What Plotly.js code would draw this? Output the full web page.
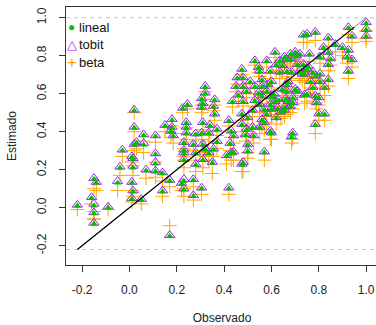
<!DOCTYPE html>
<html><head><meta charset="utf-8">
<script src="https://cdn.plot.ly/plotly-3.0.1.min.js"></script>
<style>html,body{margin:0;padding:0;overflow:hidden;background:#fff}#chart{width:380px;height:325px}</style>
</head><body><div id="chart"></div>
<script>
// Observed values (x) and the three model estimates (y)
const observado = [
-0.22,-0.16,-0.15,-0.14,-0.15,-0.15,-0.15,-0.09,-0.05,-0.04,
-0.03,0.01,0.015,0.01,0.015,0.01,0.05,0.07,0.11,0.11,
0.11,0.14,0.14,0.17,0.17,0.22,0.23,0.23,0.23,0.02,
0.02,0.06,0.11,0.03,0.02,0.06,0.015,0.15,0.18,0.175,
0.185,0.225,0.23,0.23,0.23,0.245,0.31,0.355,0.435,0.48,
0.305,0.36,0.24,0.31,0.34,0.42,0.475,0.495,0.24,0.28,
0.305,0.335,0.43,0.44,0.525,0.55,0.595,0.27,0.31,0.37,
0.425,0.43,0.50,0.28,0.32,0.335,0.355,0.41,0.35,0.48,
0.57,0.28,0.31,0.27,0.305,0.42,0.27,0.50,0.44,0.32,
0.32,0.305,0.18,0.24,0.36,0.615,0.58,0.635,0.655,0.55,
0.595,0.635,0.665,0.56,0.60,0.475,0.48,0.48,0.45,0.495,
0.53,0.545,0.58,0.61,0.645,0.67,0.615,0.455,0.53,0.545,
0.56,0.585,0.62,0.645,0.68,0.705,0.71,0.73,0.75,0.75,
0.56,0.63,0.665,0.69,0.71,0.67,0.595,0.655,0.57,0.475,
0.50,0.52,0.49,0.57,0.60,0.69,0.79,0.80,0.825,0.785,
0.685,0.655,0.68,0.60,0.72,0.76,0.805,0.84,0.85,0.84,
0.925,0.92,0.94,0.925,0.735,0.74,0.775,0.805,0.765,0.805,
0.84,0.775,0.825,0.70,0.74,0.69,0.785,0.80,0.75,0.785,
0.735,0.84,0.925,0.94,1.0,1.0,1.0,0.87,0.90,0.82,
0.70,0.68,0.665,0.755,0.72,0.685,0.785,0.665,0.475,0.53,
0.55,0.58,0.62,0.64,0.52,0.60,0.66,0.56,0.625,0.46,
0.51,0.37
];
const lineal = [
0.01,0.05,0.15,0.13,0.01,-0.03,-0.085,0.00,0.13,0.21,
0.30,0.265,0.21,0.13,0.085,0.045,0.04,0.195,0.28,0.23,
0.19,0.18,0.085,0.14,-0.15,0.125,0.14,0.095,0.285,0.51,
0.42,0.38,0.375,0.34,0.33,0.33,0.255,0.43,0.46,0.40,
0.375,0.52,0.34,0.30,0.25,0.54,0.545,0.53,0.555,0.555,
0.525,0.49,0.445,0.445,0.43,0.455,0.435,0.41,0.39,0.385,
0.39,0.39,0.40,0.375,0.375,0.42,0.40,0.33,0.33,0.345,
0.335,0.285,0.33,0.285,0.305,0.285,0.305,0.27,0.235,0.235,
0.29,0.225,0.25,0.145,0.10,0.10,0.06,0.295,0.29,0.635,
0.60,0.57,0.42,0.42,0.565,0.815,0.77,0.77,0.79,0.715,
0.715,0.71,0.715,0.67,0.66,0.725,0.68,0.635,0.635,0.61,
0.635,0.60,0.61,0.595,0.62,0.66,0.555,0.68,0.77,0.735,
0.635,0.645,0.75,0.745,0.78,0.795,0.75,0.70,0.725,0.595,
0.585,0.565,0.61,0.575,0.61,0.555,0.54,0.525,0.515,0.49,
0.47,0.42,0.38,0.445,0.39,0.39,0.55,0.49,0.49,0.435,
0.37,0.51,0.53,0.515,0.805,0.805,0.79,0.815,0.78,0.75,
0.825,0.79,0.775,0.715,0.75,0.70,0.71,0.70,0.66,0.66,
0.67,0.63,0.63,0.62,0.59,0.55,0.585,0.575,0.91,0.92,
0.905,0.89,0.945,0.90,0.97,0.935,0.90,0.855,0.84,0.84,
0.815,0.805,0.775,0.74,0.715,0.71,0.69,0.645,0.225,0.56,
0.54,0.49,0.47,0.50,0.51,0.58,0.57,0.46,0.52,0.59,
0.66,0.41
];
const tobit = [
0.015,0.055,0.155,0.135,0.02,-0.025,-0.08,0.005,0.14,0.215,
0.305,0.27,0.22,0.135,0.09,0.05,0.045,0.2,0.285,0.24,
0.195,0.185,0.09,0.145,-0.145,0.13,0.15,0.1,0.29,0.515,
0.425,0.385,0.38,0.345,0.335,0.34,0.26,0.435,0.465,0.405,
0.38,0.525,0.345,0.305,0.255,0.545,0.55,0.535,0.56,0.56,
0.53,0.495,0.45,0.45,0.435,0.46,0.44,0.415,0.395,0.39,
0.395,0.395,0.405,0.38,0.38,0.425,0.405,0.335,0.335,0.35,
0.34,0.29,0.335,0.29,0.31,0.29,0.31,0.275,0.24,0.24,
0.295,0.23,0.255,0.15,0.105,0.105,0.065,0.30,0.295,0.64,
0.605,0.575,0.425,0.425,0.57,0.82,0.775,0.775,0.795,0.72,
0.72,0.715,0.72,0.675,0.665,0.73,0.685,0.64,0.64,0.615,
0.64,0.605,0.615,0.60,0.625,0.665,0.56,0.685,0.775,0.74,
0.64,0.65,0.755,0.75,0.785,0.80,0.755,0.705,0.73,0.60,
0.59,0.57,0.615,0.58,0.615,0.56,0.545,0.53,0.52,0.495,
0.475,0.425,0.385,0.45,0.395,0.395,0.555,0.495,0.495,0.44,
0.375,0.515,0.535,0.52,0.81,0.81,0.795,0.82,0.785,0.755,
0.83,0.795,0.78,0.72,0.755,0.705,0.715,0.705,0.665,0.665,
0.675,0.635,0.635,0.625,0.595,0.555,0.59,0.58,0.915,0.925,
0.91,0.895,0.95,0.905,0.975,0.94,0.905,0.86,0.845,0.845,
0.82,0.81,0.78,0.745,0.72,0.715,0.695,0.65,0.23,0.565,
0.545,0.495,0.475,0.505,0.515,0.585,0.575,0.465,0.525,0.595,
0.665,0.415
];
const beta = [
-0.01,0.02,0.10,0.09,-0.02,-0.06,-0.06,-0.01,0.09,0.17,
0.27,0.24,0.17,0.09,0.06,0.03,0.02,0.155,0.24,0.19,
0.16,0.14,0.06,0.11,-0.095,0.09,0.10,0.06,0.25,0.50,
0.40,0.35,0.345,0.31,0.30,0.29,0.22,0.40,0.43,0.37,
0.34,0.50,0.31,0.27,0.21,0.52,0.52,0.51,0.53,0.535,
0.50,0.46,0.42,0.41,0.40,0.43,0.40,0.38,0.36,0.35,
0.36,0.35,0.37,0.34,0.34,0.39,0.36,0.30,0.29,0.31,
0.30,0.25,0.29,0.25,0.27,0.25,0.27,0.23,0.18,0.19,
0.25,0.19,0.21,0.11,0.07,0.07,0.04,0.26,0.25,0.61,
0.57,0.54,0.39,0.39,0.54,0.79,0.74,0.74,0.76,0.69,
0.68,0.68,0.69,0.64,0.63,0.70,0.65,0.60,0.61,0.58,
0.60,0.57,0.58,0.56,0.59,0.63,0.52,0.65,0.75,0.71,
0.61,0.61,0.72,0.71,0.75,0.76,0.72,0.67,0.69,0.56,
0.55,0.53,0.58,0.54,0.58,0.52,0.51,0.49,0.48,0.46,
0.44,0.39,0.35,0.41,0.36,0.36,0.52,0.46,0.46,0.39,
0.34,0.48,0.50,0.48,0.77,0.77,0.76,0.78,0.75,0.72,
0.79,0.76,0.74,0.68,0.72,0.66,0.68,0.67,0.63,0.63,
0.64,0.60,0.59,0.59,0.55,0.52,0.55,0.54,0.87,0.88,
0.87,0.85,0.91,0.87,0.93,0.89,0.875,0.82,0.80,0.81,
0.78,0.77,0.74,0.71,0.68,0.67,0.66,0.61,0.19,0.53,
0.50,0.45,0.44,0.47,0.48,0.55,0.54,0.43,0.49,0.56,
0.63,0.38
];
const seriesNames = ['lineal', 'tobit', 'beta'];
const tickVals = [-0.2, 0, 0.2, 0.4, 0.6, 0.8, 1.0];
const tickText = ['-0.2', '0.0', '0.2', '0.4', '0.6', '0.8', '1.0'];
const refLimits = [-0.22, 1.0];     // dashed horizontal bounds and identity line extent
const fitEnd = 0.95;

const FONT = 'Liberation Sans, Arial, sans-serif';
const colors = {lineal: '#00C000', tobit: '#A020F0', beta: '#FFA500'};

const traces = [
  {x: observado, y: beta, name: seriesNames[2], type: 'scatter', mode: 'markers',
   marker: {symbol: 'cross-thin-open', size: 10, color: colors.beta, line: {width: 1, color: colors.beta}}, showlegend: false},
  {x: observado, y: tobit, name: seriesNames[1], type: 'scatter', mode: 'markers',
   marker: {symbol: 'triangle-up-open', size: 9, color: colors.tobit, line: {width: 1, color: colors.tobit}}, showlegend: false},
  {x: observado, y: lineal, name: seriesNames[0], type: 'scatter', mode: 'markers',
   marker: {symbol: 'triangle-up', size: 6.5, color: colors.lineal, line: {width: 0}}, showlegend: false}
];

const shapes = [
  {type: 'line', xref: 'paper', x0: 0, x1: 1, yref: 'y', y0: refLimits[1], y1: refLimits[1],
   line: {color: '#C8C8C8', width: 1, dash: '4px,4px'}},
  {type: 'line', xref: 'paper', x0: 0, x1: 1, yref: 'y', y0: refLimits[0], y1: refLimits[0],
   line: {color: '#C8C8C8', width: 1, dash: '4px,4px'}},
  {type: 'line', xref: 'x', yref: 'y', x0: refLimits[0], y0: refLimits[0], x1: refLimits[1], y1: refLimits[1],
   line: {color: '#8a8a8a', width: 1}},
  {type: 'line', xref: 'x', yref: 'y', x0: refLimits[0], y0: refLimits[0], x1: fitEnd, y1: fitEnd,
   line: {color: '#000', width: 1.2}}
];

const legSym = ['\u25CF', '\u25B3', '+'];
const legSize = [12, 13, 17];
const legY = [0.922, 0.855, 0.786];
const annotations = [];
seriesNames.forEach((n, i) => {
  annotations.push({xref: 'paper', yref: 'paper', x: 0.018, y: legY[i], xanchor: 'center', yanchor: 'middle',
    text: legSym[i], showarrow: false, font: {family: FONT, size: legSize[i], color: colors[n]}});
  annotations.push({xref: 'paper', yref: 'paper', x: 0.034, y: legY[i], xanchor: 'left', yanchor: 'middle',
    text: n, showarrow: false, font: {family: FONT, size: 13, color: '#111'}});
});

const axisCommon = {
  showline: true, mirror: true, linecolor: '#333', linewidth: 1,
  ticks: 'outside', ticklen: 6, tickcolor: '#333', tickwidth: 1,
  showgrid: false, zeroline: false,
  tickvals: tickVals, ticktext: tickText,
  tickfont: {family: FONT, size: 12, color: '#222'}
};

const layout = {
  width: 380, height: 325,
  margin: {l: 66, r: 2, t: 7, b: 60},
  paper_bgcolor: '#fff', plot_bgcolor: '#fff',
  font: {family: FONT, size: 12, color: '#222'},
  xaxis: Object.assign({}, axisCommon, {
    range: [-0.268, 1.05], ticklabelstandoff: 8,
    title: {text: 'Observado', font: {family: FONT, size: 12, color: '#222'}, standoff: 20}
  }),
  yaxis: Object.assign({}, axisCommon, {
    range: [-0.3016, 1.056], tickangle: -90, ticklabelstandoff: 8,
    title: {text: 'Estimado', font: {family: FONT, size: 12, color: '#222'}, standoff: 16}
  }),
  shapes: shapes,
  annotations: annotations,
  showlegend: false
};

Plotly.newPlot('chart', traces, layout, {staticPlot: true, displayModeBar: false});
</script>
</body></html>
